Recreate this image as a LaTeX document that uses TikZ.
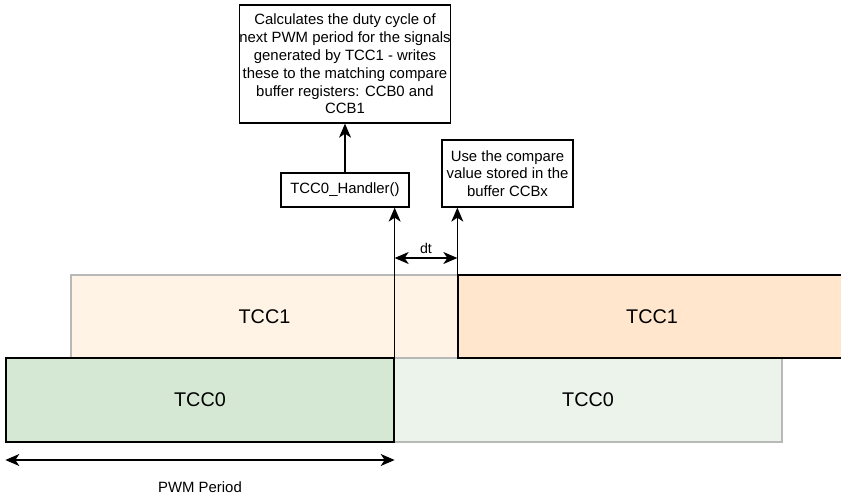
\documentclass[tikz,border=0pt]{standalone}
\usepackage{fontspec}
\setmainfont{Liberation Sans}
\usetikzlibrary{arrows.meta,calc}
\definecolor{grnfill}{HTML}{D5E8D4}
\definecolor{grnfade}{HTML}{EBF3EA}
\definecolor{orgfill}{HTML}{FFE6CC}
\definecolor{orgfade}{HTML}{FFF3E6}
\tikzset{
	note/.style={draw, line width=1.3pt, align=center, inner sep=0pt,
			font=\fontsize{14.9}{17.8}\selectfont},
	slot/.style={draw, line width=1.3pt, inner sep=0pt,
			font=\fontsize{19.8}{23}\selectfont},
	faded/.style={draw=black!28},
	tip/.style={-{Stealth[length=14pt,width=12pt,inset=4pt]}, line width=1.3pt},
	twotip/.style={{Stealth[length=14pt,width=12pt,inset=4pt]}-{Stealth[length=14pt,width=12pt,inset=4pt]}, line width=1.3pt}
}

\begin{document}
\begin{tikzpicture}[x=1pt,y=-1pt]
	\useasboundingbox (0,0) rectangle (841,498);
	\clip (0,0) rectangle (841,498);
	% timer slots
	\node[slot, faded, fill=orgfade, minimum width=387pt, minimum height=83pt] (tcc1a) at (264.5,316.5) {TCC1};
	\node[slot, faded, fill=grnfade, minimum width=388pt, minimum height=84pt] (tcc0b) at (588,400) {TCC0};
	\node[slot, fill=orgfill, minimum width=388pt, minimum height=83pt] (tcc1b) at (652,316.5) {TCC1};
	\node[slot, fill=grnfill, minimum width=388pt, minimum height=84pt] (tcc0a) at (200,400) {TCC0};

	% notes
	\node[note, minimum width=210pt, minimum height=118pt] (calc) at (345,64)
		{Calculates the duty cycle of\\next PWM period for the signals\\generated by TCC1 - writes\\these to the matching compare\\buffer registers: CCB0 and\\CCB1};
	\node[note, minimum width=128pt, minimum height=34pt] (handler) at (345,190) {TCC0\_Handler()};
	\node[note, minimum width=131pt, minimum height=67pt] (ccbx) at (507.5,173.5)
		{Use the compare\\value stored in the\\buffer CCBx};

	\draw[tip] (handler) -- (calc);
	\draw[tip] (tcc0a.north east) -- (tcc0a.north east |- handler.south);
	\draw[tip] (tcc1b.south west) -- (tcc1b.south west |- ccbx.south);

	% dt and period
	\coordinate (dtl) at (tcc0a.north east |- 0,258);
	\coordinate (dtr) at (tcc1b.south west |- 0,258);
	\draw[twotip] (dtl) -- node[above=0pt, font=\fontsize{14.2}{16}\selectfont] {dt} (dtr);
	\coordinate (pl) at (tcc0a.south west |- 0,460);
	\coordinate (pr) at (tcc0a.south east |- 0,460);
	\draw[twotip] (pl) -- node[below=18pt, font=\fontsize{14.9}{17}\selectfont] {PWM Period} (pr);
\end{tikzpicture}
\end{document}
